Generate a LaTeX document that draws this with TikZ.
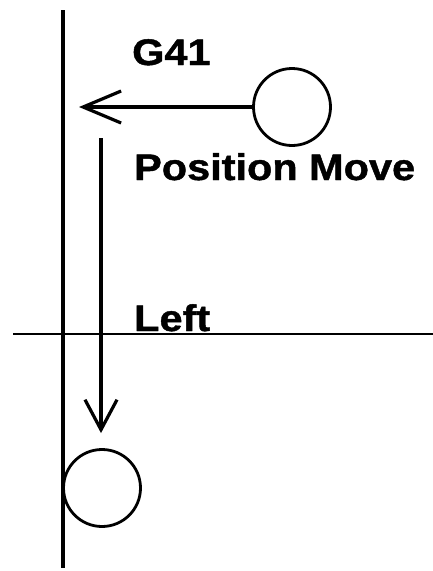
\documentclass[tikz,border=0pt]{standalone}
\usepackage{fontspec}
\setmainfont{Liberation Sans}[FakeStretch=1.12,BoldFeatures={FakeBold=1.2}]
\usetikzlibrary{arrows.meta}
\begin{document}
\begin{tikzpicture}[x=1pt,y=-1pt,
  ring/.style={draw,circle,line width=2.8pt,minimum size=77pt,inner sep=0pt},
  axis/.style={line width=3.2pt},
  thinaxis/.style={line width=2pt},
  move/.style={line width=3.2pt},
  lbl/.style={anchor=base west,inner sep=0pt,font=\fontsize{37}{40}\selectfont\bfseries}]
\useasboundingbox (0,0) rectangle (433,571);
% axes
\coordinate (vtop) at (63,10);
\coordinate (vbot) at (63,568);
\coordinate (hl) at (13,334);
\coordinate (hr) at (433,334);
\draw[axis] (vtop) -- (vbot);
\draw[thinaxis] (hl) -- (hr);
% circles
\node[ring] (c1) at (292,107) {};
\node[ring] (c2) at (102,488) {};
% arrows
\coordinate (tip1) at (79,107);
\coordinate (s2) at (101,138);
\draw[move,-{Straight Barb[length=38pt,width=32pt]}] (c1.west) -- (tip1);
\draw[move,-{Straight Barb[length=30pt,width=32pt]},shorten >=15pt] (s2) -- (s2 |- c2.north);
% labels
\node[lbl] (g41) at (132,65) {G41};
\node[lbl] (pm) at (134,180) {Position Move};
\node[lbl] (lf) at (134,331) {Left};
\end{tikzpicture}
\end{document}
